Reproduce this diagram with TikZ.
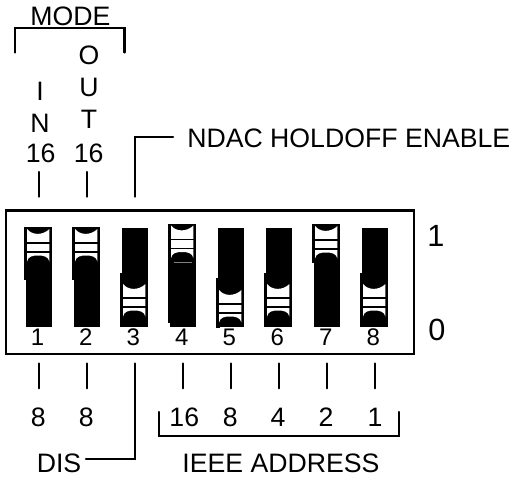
\documentclass[tikz,border=0pt]{standalone}
\usepackage{fontspec}
\setmainfont{Liberation Sans}
\newcommand{\dipsw}[4]{% cx, slider top, wall top, wall bottom
  \fill (#1-13.2,228) rectangle (#1+13.3,327);
  \begin{scope}[shift={(#1,#2)}]
    \fill (-14.6,-1) rectangle (13.0,35);
    \fill (-14.6,#3) rectangle (-11,#4);
    \fill[white] (-11.9,1) .. controls (-7,7.5) and (4,7.5) .. (10.4,1)
      -- (10.4,33.5) .. controls (9,28.5) and (5,27.5) .. (-0.8,27.5)
      .. controls (-7,27.5) and (-11,28.5) .. (-11.9,33.5) -- cycle;
    \draw[line width=1pt] (-12,15) -- (10.5,15);
    \draw[line width=1pt] (-12,24) -- (10.5,24);
  \end{scope}
}
\tikzset{
  lbl/.style={anchor=base,inner sep=0pt,font=\fontsize{20}{22}\selectfont},
  swnum/.style={anchor=base,inner sep=0pt,font=\fontsize{18}{20}\selectfont},
  poslabel/.style={anchor=base,inner sep=0pt,font=\fontsize{23}{26}\selectfont},
  wire/.style={draw,line width=1.6pt,line cap=round,line join=miter}
}
\begin{document}
\begin{tikzpicture}[x=0.75pt,y=-0.75pt]
\useasboundingbox (0,0) rectangle (513,480);
% housing
\coordinate (boxnw) at (6,210.5);
\coordinate (boxse) at (414,354);
\draw[line width=1.9pt] (boxnw) rectangle (boxse);
% switches
\dipsw{39}{228}{0}{52}
\dipsw{87}{228}{0}{52}
\dipsw{135}{283}{-10}{44}
\dipsw{183}{224.5}{0}{98}
\dipsw{231}{289}{-11}{39}
\dipsw{279}{283}{-10}{44}
\dipsw{327}{225}{0}{38}
\dipsw{375}{283}{-10}{44}
\draw[gray,line width=0.3pt] (174,262) -- (192,262);
% switch numbers
\foreach \n/\x in {1/37.6,2/85.7,3/133.3,4/181.7,5/229.3,6/277.3,7/325.7,8/373.3}
  \node[swnum] (num\n) at (\x,345.7) {\n};
% position labels
\node[poslabel] (one) at (436,246.7) {1};
\node[poslabel] (zero) at (437,340.7) {0};
% top labels
\node[lbl] (mode) at (70.3,25.7) {MODE};
\node[lbl] (o) at (89,64) {O};
\node[lbl] (u) at (89,96.7) {U};
\node[lbl] (t) at (89,128) {T};
\node[lbl] (i) at (40,100.7) {I};
\node[lbl] (n) at (40,132.7) {N};
\node[lbl] (in16) at (40.7,162.3) {16};
\node[lbl] (out16) at (88.7,162.3) {16};
\node[lbl,anchor=base west] (ndac) at (187,147.5) {NDAC HOLDOFF ENABLE};
% bottom labels
\node[lbl] (in8) at (38.3,426) {8};
\node[lbl] (out8) at (86.3,426) {8};
\node[lbl] (a16) at (184.3,426) {16};
\node[lbl] (a8) at (230.3,426) {8};
\node[lbl] (a4) at (278,426) {4};
\node[lbl] (a2) at (326,426) {2};
\node[lbl] (a1) at (375,426) {1};
\node[lbl] (dis) at (59,472.7) {DIS};
\node[lbl] (addr) at (281,472.7) {IEEE ADDRESS};
% brackets and leaders
\coordinate (ml) at (15,52.5); \coordinate (mr) at (124.5,52.5);
\draw[wire] (ml) |- (70,28) -| (mr);
\coordinate (al) at (159,412); \coordinate (ar) at (399,412);
\draw[wire] (al) |- (280,436) -| (ar);
\coordinate (hs) at (135,196.7); \coordinate (he) at (173,137);
\draw[wire] (hs) |- (he);
\coordinate (ds) at (135,363.5); \coordinate (de) at (86,459);
\draw[wire] (ds) |- (de);
\foreach \x in {39,87} {
  \coordinate (ta\x) at (\x,172); \coordinate (tb\x) at (\x,196.7);
  \draw[wire] (ta\x) -- (tb\x);
}
\foreach \x in {39,87,183,231,279,327,375} {
  \coordinate (ba\x) at (\x,363.5); \coordinate (bb\x) at (\x,388.3);
  \draw[wire] (ba\x) -- (bb\x);
}
\end{tikzpicture}
\end{document}
